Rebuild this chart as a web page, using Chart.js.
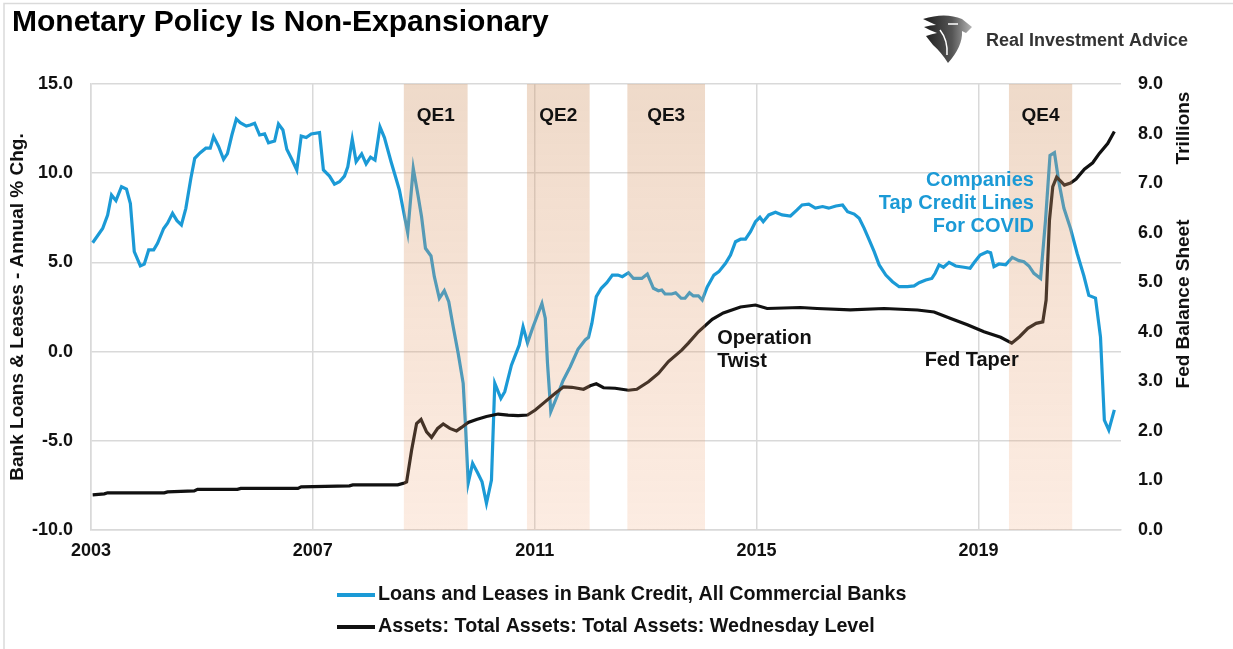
<!DOCTYPE html>
<html lang="en">
<head>
<meta charset="UTF-8">
<title>Monetary Policy Is Non-Expansionary</title>
<script src="https://cdn.jsdelivr.net/npm/chart.js"></script>
<style>
  html, body { margin: 0; padding: 0; background: #fff; }
  #wrap { width: 1233px; height: 649px; position: relative; }
  canvas { display: block; }
</style>
</head>
<body>
<div id="wrap"><canvas id="chart" width="1233" height="649" style="width:1233px;height:649px"></canvas></div>
<script>
// --- data ---
const loanLabel = 'Loans and Leases in Bank Credit, All Commercial Banks';
const fedLabel = 'Assets: Total Assets: Total Assets: Wednesday Level';

const yearTicks = [2003, 2007, 2011, 2015, 2019];
const leftTicks = [-10, -5, 0, 5, 10, 15];
const rightTicks = [0, 1, 2, 3, 4, 5, 6, 7, 8, 9];

// bank loans & leases, annual % change
const loanYears = [
  2003.03, 2003.21, 2003.30, 2003.37, 2003.45, 2003.55, 2003.64, 2003.71, 2003.78, 2003.89,
  2003.96, 2004.04, 2004.13, 2004.20, 2004.31, 2004.38, 2004.47, 2004.55, 2004.63, 2004.71,
  2004.80, 2004.87, 2004.97, 2005.07, 2005.15, 2005.21, 2005.30, 2005.39, 2005.46, 2005.54,
  2005.62, 2005.69, 2005.80, 2005.87, 2005.95, 2006.04, 2006.13, 2006.20, 2006.31, 2006.38,
  2006.46, 2006.53, 2006.62, 2006.71, 2006.79, 2006.88, 2006.97, 2007.12, 2007.19, 2007.30,
  2007.39, 2007.48, 2007.57, 2007.63, 2007.71, 2007.78, 2007.88, 2007.96, 2008.04, 2008.12,
  2008.21, 2008.29, 2008.41, 2008.56, 2008.71, 2008.81, 2008.90, 2008.96, 2009.03, 2009.13,
  2009.19, 2009.28, 2009.37, 2009.45, 2009.53, 2009.62, 2009.71, 2009.75, 2009.80, 2009.88,
  2009.97, 2010.05, 2010.13, 2010.22, 2010.28, 2010.39, 2010.46, 2010.58, 2010.72, 2010.79,
  2010.87, 2010.97, 2011.13, 2011.19, 2011.23, 2011.29, 2011.40, 2011.51, 2011.64, 2011.78,
  2011.91, 2011.97, 2012.03, 2012.11, 2012.20, 2012.30, 2012.40, 2012.50, 2012.58, 2012.69,
  2012.78, 2012.93, 2013.03, 2013.14, 2013.23, 2013.29, 2013.35, 2013.47, 2013.54, 2013.64,
  2013.71, 2013.79, 2013.86, 2013.95, 2014.02, 2014.11, 2014.23, 2014.32, 2014.44, 2014.53,
  2014.62, 2014.71, 2014.80, 2014.89, 2014.98, 2015.06, 2015.12, 2015.22, 2015.34, 2015.46,
  2015.61, 2015.73, 2015.82, 2015.94, 2016.06, 2016.19, 2016.30, 2016.43, 2016.55, 2016.64,
  2016.76, 2016.85, 2016.94, 2017.03, 2017.12, 2017.21, 2017.33, 2017.45, 2017.57, 2017.72,
  2017.84, 2017.93, 2018.05, 2018.16, 2018.22, 2018.29, 2018.37, 2018.47, 2018.59, 2018.74,
  2018.85, 2018.92, 2019.03, 2019.16, 2019.22, 2019.28, 2019.37, 2019.49, 2019.61, 2019.73,
  2019.82, 2019.91, 2020.00, 2020.12, 2020.21, 2020.29, 2020.37, 2020.45, 2020.54, 2020.66,
  2020.78, 2020.90, 2020.99, 2021.11, 2021.20, 2021.27, 2021.35, 2021.45
];
const loanGrowth = [
  6.10, 6.90, 7.66, 8.78, 8.46, 9.24, 9.11, 8.30, 5.60, 4.80,
  4.90, 5.70, 5.70, 6.07, 6.90, 7.20, 7.75, 7.34, 7.10, 8.03,
  9.70, 10.83, 11.15, 11.40, 11.40, 12.05, 11.50, 10.78, 11.10, 12.14,
  13.04, 12.83, 12.64, 12.70, 12.80, 12.14, 12.20, 11.70, 11.80, 12.76,
  12.42, 11.34, 10.78, 10.18, 12.08, 12.00, 12.20, 12.27, 10.18, 9.84,
  9.39, 9.52, 9.84, 10.36, 11.90, 10.64, 11.08, 10.52, 10.90, 10.74,
  12.60, 12.00, 10.64, 9.06, 6.66, 10.27, 8.68, 7.56, 5.79, 5.36,
  4.20, 2.99, 3.41, 2.80, 1.39, -0.10, -1.78, -4.02, -7.38, -6.26,
  -6.79, -7.30, -8.50, -7.20, -1.78, -2.62, -2.25, -0.76, 0.36, 1.39,
  0.49, 1.39, 2.70, 1.87, -0.65, -3.36, -2.53, -1.63, -0.85, 0.13,
  0.65, 0.80, 1.58, 3.08, 3.55, 3.86, 4.29, 4.29, 4.20, 4.42,
  4.10, 4.10, 4.35, 3.55, 3.41, 3.45, 3.23, 3.23, 3.30, 2.99,
  2.99, 3.30, 3.12, 3.13, 2.89, 3.63, 4.29, 4.48, 4.95, 5.41,
  6.16, 6.30, 6.30, 6.72, 7.28, 7.53, 7.28, 7.66, 7.81, 7.66,
  7.60, 7.94, 8.22, 8.26, 8.04, 8.13, 8.04, 8.16, 8.22, 7.84,
  7.71, 7.47, 6.91, 6.26, 5.60, 4.86, 4.29, 3.92, 3.64, 3.64,
  3.68, 3.86, 4.01, 4.10, 4.39, 4.86, 4.73, 5.00, 4.80, 4.73,
  4.67, 4.98, 5.41, 5.60, 5.54, 4.76, 4.91, 4.86, 5.28, 5.10,
  5.04, 4.80, 4.39, 4.10, 7.40, 11.00, 11.15, 9.50, 8.05, 6.90,
  5.50, 4.25, 3.15, 3.00, 0.83, -3.84, -4.40, -3.27
];

// Fed balance sheet, trillions
const fedYears = [
  2003.03, 2003.24, 2003.30, 2004.32, 2004.38, 2004.86, 2004.92, 2005.64, 2005.70, 2006.73,
  2006.79, 2007.66, 2007.72, 2008.53, 2008.65, 2008.69, 2008.78, 2008.87, 2008.95, 2009.05,
  2009.14, 2009.25, 2009.35, 2009.47, 2009.59, 2009.68, 2009.80, 2009.95, 2010.13, 2010.34,
  2010.52, 2010.70, 2010.87, 2011.01, 2011.19, 2011.37, 2011.52, 2011.67, 2011.88, 2012.00,
  2012.11, 2012.24, 2012.45, 2012.69, 2012.84, 2013.05, 2013.23, 2013.41, 2013.65, 2013.77,
  2013.95, 2014.20, 2014.40, 2014.71, 2014.98, 2015.19, 2015.79, 2016.09, 2016.69, 2017.30,
  2017.90, 2018.20, 2018.50, 2018.80, 2019.10, 2019.40, 2019.60, 2019.74, 2019.89, 2020.04,
  2020.16, 2020.22, 2020.28, 2020.34, 2020.41, 2020.49, 2020.55, 2020.66, 2020.76, 2020.91,
  2021.06, 2021.18, 2021.33, 2021.45
];
const fedAssets = [
  0.71, 0.73, 0.75, 0.75, 0.77, 0.79, 0.82, 0.82, 0.84, 0.84,
  0.87, 0.89, 0.91, 0.91, 0.95, 0.97, 1.61, 2.15, 2.23, 1.98,
  1.87, 2.05, 2.14, 2.05, 2.00, 2.07, 2.17, 2.23, 2.29, 2.34,
  2.32, 2.31, 2.32, 2.42, 2.59, 2.76, 2.89, 2.88, 2.84, 2.91,
  2.95, 2.87, 2.86, 2.82, 2.84, 2.99, 3.16, 3.40, 3.63, 3.77,
  4.00, 4.25, 4.38, 4.50, 4.54, 4.47, 4.49, 4.47, 4.44, 4.47,
  4.44, 4.40, 4.27, 4.14, 4.00, 3.89, 3.77, 3.90, 4.07, 4.17,
  4.20, 4.64, 6.25, 6.93, 7.12, 7.03, 6.96, 7.00, 7.08, 7.28,
  7.41, 7.60, 7.80, 8.04
];

// QE programmes (shaded)
const qeNames = ['QE1', 'QE2', 'QE3', 'QE4'];
const qeStart = [2008.64, 2010.86, 2012.67, 2019.55];
const qeEnd = [2009.79, 2011.99, 2014.07, 2020.69];

// --- styling ---
const FONT = "'Liberation Sans', Arial, Helvetica, sans-serif";
const blue = '#1b9ad6';
const ink = '#111111';
const gridColor = '#d9d9d9';

Chart.defaults.font.family = FONT;
Chart.defaults.color = ink;

// text notes placed in data units (year, left-axis value)
const notes = [
  { lines: ['Companies', 'Tap Credit Lines', 'For COVID'], year: 2020.0, value: 9.58, align: 'right', color: blue },
  { lines: ['Operation', 'Twist'], year: 2014.29, value: 0.76, align: 'left', color: ink },
  { lines: ['Fed Taper'], year: 2018.03, value: -0.47, align: 'left', color: ink }
];

function font(size) { return 'bold ' + size + 'px ' + FONT; }

function drawLogo(ctx) {
    // simple eagle head mark
    ctx.save();
    const g = ctx.createLinearGradient(922, 0, 972, 0);
    g.addColorStop(0, '#1a1a1a');
    g.addColorStop(0.6, '#555');
    g.addColorStop(1, '#b5b5b5');
    ctx.fillStyle = g;
    ctx.beginPath();
    ctx.moveTo(923, 19);
    ctx.quadraticCurveTo(945, 12, 962, 19);
    ctx.lineTo(972, 27);
    ctx.lineTo(966, 33);
    ctx.lineTo(962, 31);
    ctx.quadraticCurveTo(963, 46, 948, 63);
    ctx.quadraticCurveTo(941, 52, 933, 45);
    ctx.quadraticCurveTo(929, 40, 926, 36);
    ctx.quadraticCurveTo(932, 34, 937, 33);
    ctx.quadraticCurveTo(929, 30, 924, 27);
    ctx.quadraticCurveTo(931, 25, 936, 25);
    ctx.closePath();
    ctx.fill();
    ctx.strokeStyle = '#fff';
    ctx.lineWidth = 1.5;
    ctx.beginPath();
    ctx.moveTo(948, 24);
    ctx.lineTo(958, 24);
    ctx.stroke();
    ctx.beginPath();
    ctx.moveTo(940, 30);
    ctx.quadraticCurveTo(948, 40, 947, 55);
    ctx.stroke();
    ctx.restore();
}

const decor = {
    id: 'decor',
    beforeDraw(chart) {
        const ctx = chart.ctx;
        ctx.save();
        // frame
        ctx.strokeStyle = '#dadada';
        ctx.lineWidth = 1.5;
        ctx.beginPath();
        ctx.moveTo(4, 649);
        ctx.lineTo(4, 3.5);
        ctx.lineTo(1233, 3.5);
        ctx.stroke();
        // title
        ctx.fillStyle = '#000';
        ctx.font = font(30);
        ctx.textBaseline = 'middle';
        ctx.textAlign = 'left';
        ctx.fillText('Monetary Policy Is Non-Expansionary', 12, 23);
        // logo
        drawLogo(ctx);
        ctx.fillStyle = '#333';
        ctx.font = font(18);
        ctx.fillText('Real Investment Advice', 986, 41);
        ctx.restore();
    },
    afterDatasetsDraw(chart) {
        const ctx = chart.ctx;
        const area = chart.chartArea;
        const x = chart.scales.x;
        const y = chart.scales.y;
        ctx.save();
        const g = ctx.createLinearGradient(0, area.top, 0, area.bottom);
        g.addColorStop(0, 'rgba(209,152,106,0.36)');
        g.addColorStop(1, 'rgba(240,160,110,0.2)');
        ctx.fillStyle = g;
        qeNames.forEach((name, i) => {
            const x0 = x.getPixelForValue(qeStart[i]);
            const x1 = x.getPixelForValue(qeEnd[i]);
            ctx.fillRect(x0, area.top, x1 - x0, area.bottom - area.top);
        });
        ctx.fillStyle = ink;
        ctx.font = font(19);
        ctx.textAlign = 'center';
        ctx.textBaseline = 'middle';
        qeNames.forEach((name, i) => {
            const cx = x.getPixelForValue((qeStart[i] + qeEnd[i]) / 2);
            ctx.fillText(name, cx, y.getPixelForValue(13.2));
        });
        // notes
        ctx.font = font(20);
        notes.forEach(n => {
            ctx.fillStyle = n.color;
            ctx.textAlign = n.align;
            const px = x.getPixelForValue(n.year);
            const py = y.getPixelForValue(n.value);
            n.lines.forEach((t, k) => ctx.fillText(t, px, py + k * 23));
        });
        ctx.restore();
    },
    afterDraw(chart) {
        const ctx = chart.ctx;
        ctx.save();
        ctx.fillStyle = ink;
        ctx.font = font(19);
        ctx.textAlign = 'center';
        ctx.textBaseline = 'middle';
        // axis titles
        const vtext = (t, cx, cy) => {
            ctx.save();
            ctx.translate(cx, cy);
            ctx.rotate(-Math.PI / 2);
            ctx.fillText(t, 0, 0);
            ctx.restore();
        };
        vtext('Bank Loans & Leases - Annual % Chg.', 18, 307);
        vtext('Trillions', 1184, 128);
        vtext('Fed Balance Sheet', 1184, 304);
        // legend
        const rows = [[blue, loanLabel, 595], [ink, fedLabel, 627]];
        ctx.textAlign = 'left';
        ctx.font = font(19.7);
        rows.forEach(([c, t, ry]) => {
            ctx.strokeStyle = c;
            ctx.lineWidth = 4;
            ctx.beginPath();
            ctx.moveTo(337, ry);
            ctx.lineTo(375, ry);
            ctx.stroke();
            ctx.fillStyle = ink;
            ctx.fillText(t, 378, ry);
        });
        ctx.restore();
    }
};

const tickFont = { size: 18, weight: 'bold' };

new Chart(document.getElementById('chart'), {
    type: 'line',
    data: {
        datasets: [
            {
                label: loanLabel,
                data: loanYears.map((yr, i) => ({ x: yr, y: loanGrowth[i] })),
                yAxisID: 'y',
                borderColor: blue,
                borderWidth: 3.2,
                pointRadius: 0,
                tension: 0,
                order: 1
            },
            {
                label: fedLabel,
                data: fedYears.map((yr, i) => ({ x: yr, y: fedAssets[i] })),
                yAxisID: 'y2',
                borderColor: ink,
                borderWidth: 3.2,
                pointRadius: 0,
                tension: 0,
                order: 0
            }
        ]
    },
    options: {
        responsive: false,
        animation: false,
        layout: { padding: { top: 84, left: 0, right: 0, bottom: 0 } },
        plugins: {
            legend: { display: false },
            tooltip: { enabled: false }
        },
        scales: {
            x: {
                type: 'linear',
                min: 2003,
                max: 2021.57,
                afterBuildTicks: s => { s.ticks = yearTicks.map(v => ({ value: v })); },
                afterFit: s => { s.height = 119; },
                grid: { color: gridColor, lineWidth: 1.5, drawTicks: false },
                border: { display: true, color: gridColor, width: 1.5 },
                ticks: {
                    padding: 10,
                    color: ink,
                    font: tickFont,
                    maxRotation: 0,
                    autoSkip: false,
                    callback: v => String(v)
                }
            },
            y: {
                position: 'left',
                min: -10,
                max: 15,
                afterBuildTicks: s => { s.ticks = leftTicks.map(v => ({ value: v })); },
                afterFit: s => { s.width = 91; },
                grid: { color: gridColor, lineWidth: 1.5, drawTicks: false },
                border: { display: true, color: gridColor, width: 1.5 },
                ticks: { padding: 18, color: ink, font: tickFont, callback: v => v.toFixed(1) }
            },
            y2: {
                position: 'right',
                min: 0,
                max: 9,
                afterBuildTicks: s => { s.ticks = rightTicks.map(v => ({ value: v })); },
                afterFit: s => { s.width = 112; },
                grid: { display: false, drawTicks: false },
                border: { display: false },
                ticks: { padding: 17, color: ink, font: tickFont, callback: v => v.toFixed(1) }
            }
        }
    },
    plugins: [decor]
});
</script>
</body>
</html>
